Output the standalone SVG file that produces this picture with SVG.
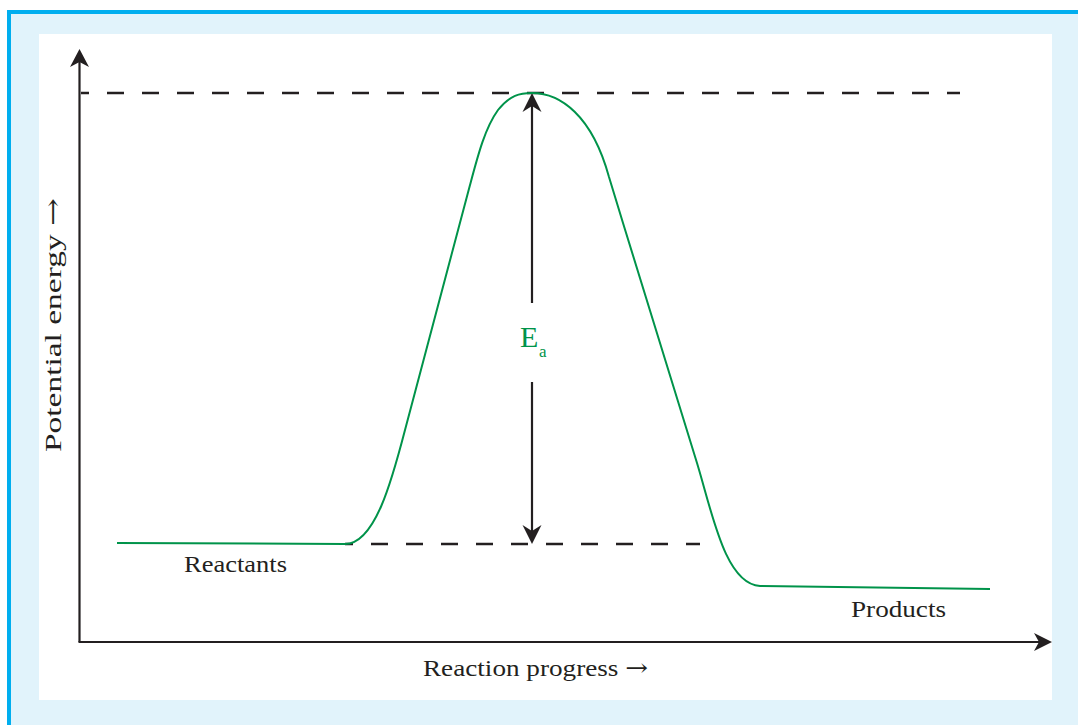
<svg xmlns="http://www.w3.org/2000/svg" width="1078" height="725" viewBox="0 0 1078 725">
  <style>
    .lbl { font-family: "Liberation Serif", "Times New Roman", serif; font-size: 24px; fill: #231f20; }
    .arr { font-family: "DejaVu Serif", "DejaVu Sans", serif; font-weight: normal; }
    .grn { font-family: "Liberation Serif", "Times New Roman", serif; fill: #00934a; }
    .axis { stroke: #231f20; stroke-width: 2.2; fill: none; }
    .dash { stroke: #231f20; stroke-width: 2.5; fill: none; stroke-dasharray: 17 18; }
    .curve { stroke: #00934a; stroke-width: 2; fill: none; }
    .head { fill: #231f20; }
  </style>
  <g id="frame">
    <rect x="9" y="12" width="1069" height="713" fill="#e1f3fb"/>
    <rect x="39" y="34" width="1013" height="666" fill="#ffffff"/>
    <line x1="7" y1="12" x2="1078" y2="12" stroke="#00aeef" stroke-width="4"/>
    <line x1="9" y1="10" x2="9" y2="725" stroke="#00aeef" stroke-width="4"/>
  </g>
  <g id="axes">
    <line class="axis" x1="79.5" y1="60" x2="79.5" y2="642"/>
    <line class="axis" x1="78.5" y1="642" x2="1040" y2="642"/>
    <path class="head" d="M79.5,49 L89,67 L79.5,62 L70,67 Z"/>
    <path class="head" d="M1052,642 L1034,651 L1039,642 L1034,633 Z"/>
  </g>
  <g id="connectors">
    <line class="dash" x1="81" y1="93" x2="960" y2="93" stroke-dashoffset="9"/>
    <line class="dash" x1="345" y1="544" x2="700" y2="544" stroke-dashoffset="9"/>
    <line class="axis" x1="532" y1="105" x2="532" y2="303"/>
    <line class="axis" x1="532" y1="382" x2="532" y2="532"/>
    <path class="head" d="M532,93 L541.5,112 L532,106 L522.5,112 Z"/>
    <path class="head" d="M532,544 L541.5,525 L532,531 L522.5,525 Z"/>
  </g>
  <g id="curve">
    <path class="curve" d="M117,543 L345,544 C375,544 392,480 405,430 L470,185 C478,155 485,128 498,110 C510,95 520,93 532,93 C560,93 592,115 609,177 L623,223 L697,463 C712,512 725,584 760,586 L990,589"/>
  </g>
  <g id="ea-label">
    <text class="grn" x="520" y="347" font-size="30">E</text>
    <text class="grn" x="539" y="357" font-size="17">a</text>
  </g>
  <g id="reactants">
    <text class="lbl" x="184" y="572" textLength="103" lengthAdjust="spacingAndGlyphs">Reactants</text>
  </g>
  <g id="products">
    <text class="lbl" x="851" y="617" textLength="95" lengthAdjust="spacingAndGlyphs">Products</text>
  </g>
  <g id="x-label">
    <text class="lbl" x="423" y="676" textLength="225" lengthAdjust="spacingAndGlyphs">Reaction progress <tspan class="arr">→</tspan></text>
  </g>
  <g id="y-label">
    <text class="lbl" transform="translate(61,452) rotate(-90)" x="0" y="0" textLength="254" lengthAdjust="spacingAndGlyphs">Potential energy <tspan class="arr">→</tspan></text>
  </g>
</svg>
